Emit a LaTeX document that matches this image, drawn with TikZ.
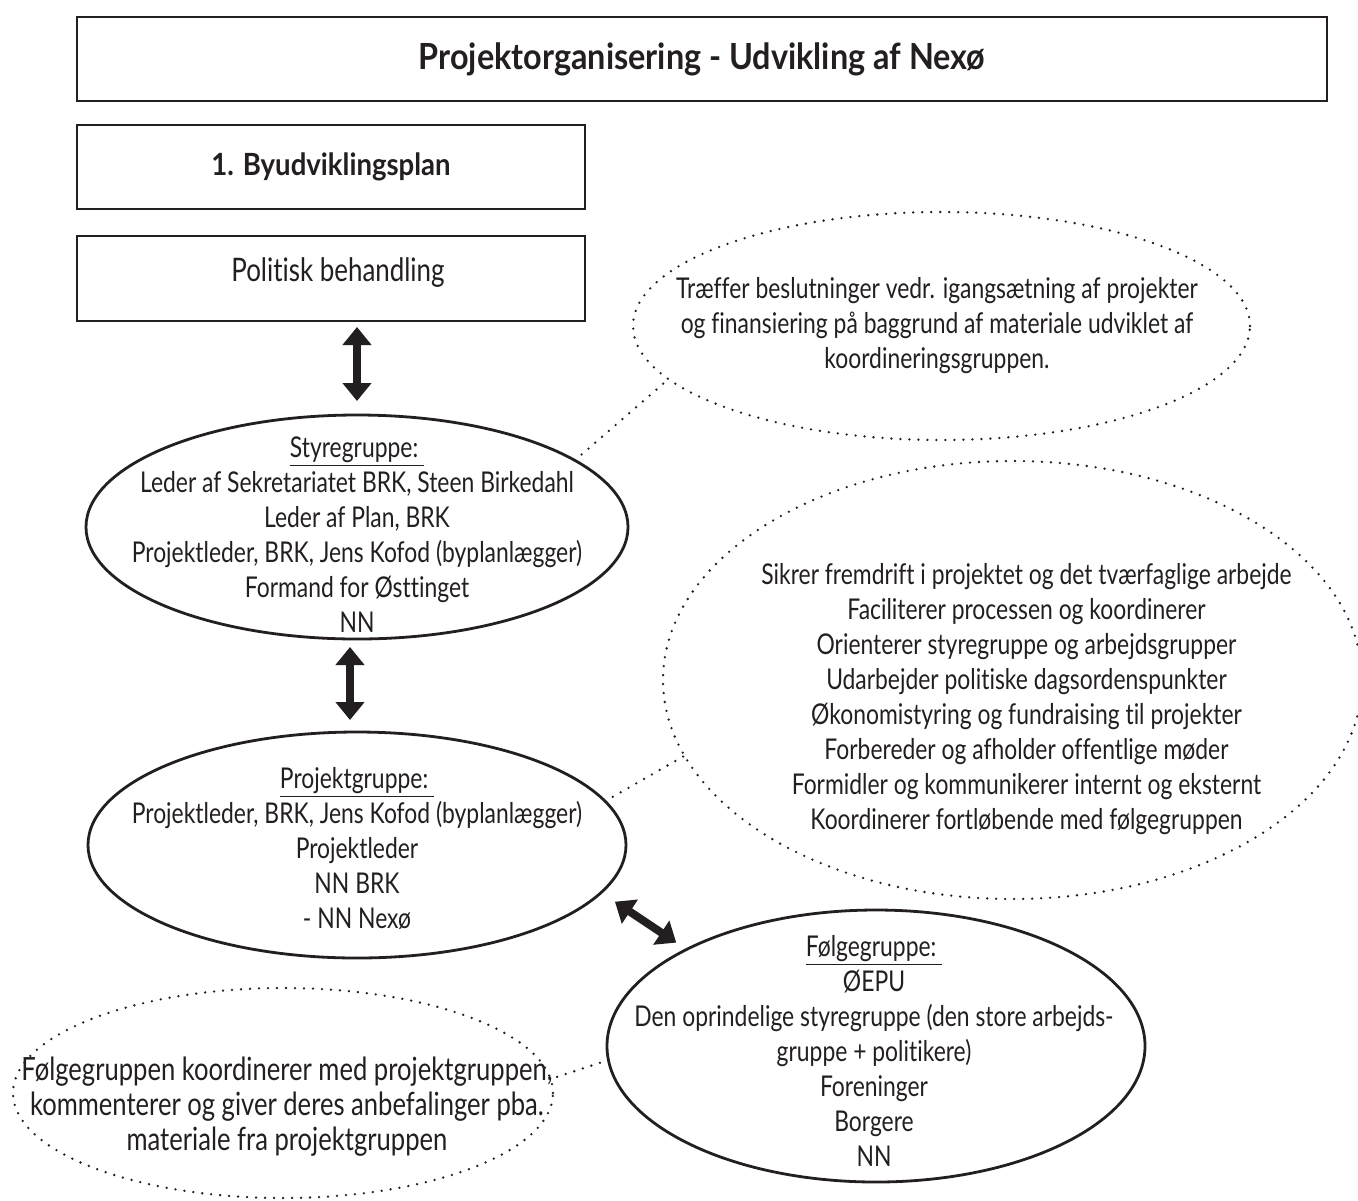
\documentclass[tikz,border=0pt]{standalone}
\usepackage{fontspec}
\setmainfont{Lato}[FakeStretch=0.8,Ligatures=NoCommon,BoldFeatures={FakeStretch=0.9}]
\usetikzlibrary{shapes.geometric,arrows.meta}
\definecolor{ink}{HTML}{231F20}
\begin{document}
\begin{tikzpicture}[x=0.5pt,y=-0.5pt,
  box/.style={draw=ink,line width=1.3pt,inner sep=0pt,outer sep=0pt},
  solidell/.style={ellipse,draw=ink,line width=1.4pt,inner sep=0pt,outer sep=0pt},
  dotell/.style={ellipse,draw=ink,line width=1.3pt,dash pattern=on 0pt off 4.5pt,line cap=round,inner sep=0pt,outer sep=0pt},
  txt/.style={align=center,inner sep=0pt,text=ink,font=\fontsize{14.3pt}{17.5pt}\selectfont},
  dotline/.style={draw=ink,line width=1.3pt,dash pattern=on 0pt off 4.5pt,line cap=round},
  bigarrow/.style={draw=ink,fill=ink,line width=4pt,{Triangle[width=14pt,length=9pt]}-{Triangle[width=14pt,length=9pt]}}
]
\fill[white] (0,0) rectangle (1358,1200);
\useasboundingbox (0,0) rectangle (1358,1200);

% boxes
\node[box,minimum width=625pt,minimum height=42pt,font=\fontsize{18pt}{20pt}\selectfont\bfseries,text=ink] (title) at (702,59) {Projektorganisering - Udvikling af Nexø};
\node[box,minimum width=254pt,minimum height=42pt,font=\fontsize{15.3pt}{18pt}\selectfont\bfseries,text=ink] (plan) at (331,167) {1. Byudviklingsplan};
\node[box,minimum width=254pt,minimum height=42.5pt] (pol) at (331,278.5) {};
\node[txt,font=\fontsize{16.2pt}{18pt}\selectfont] (polt) at (338,273) {Politisk behandling};

% ellipses
\node[solidell,minimum width=271pt,minimum height=112pt] (sg) at (357,527) {};
\node[solidell,minimum width=269pt,minimum height=113pt] (pg) at (357,845) {};
\node[solidell,minimum width=269pt,minimum height=136pt] (fg) at (876,1046) {};
\node[dotell,minimum width=308.5pt,minimum height=114pt] (d1) at (941.5,326) {};
\node[dotell,minimum width=349.5pt,minimum height=219pt] (d2) at (1012.5,680) {};
\node[dotell,minimum width=270pt,minimum height=105pt] (d3) at (283,1093) {};

% texts
\node[txt] (sgt) at (357,535) {\underline{Styregruppe:~}\\Leder af Sekretariatet BRK, Steen Birkedahl\\Leder af Plan, BRK\\Projektleder, BRK, Jens Kofod (byplanlægger)\\Formand for Østtinget\\NN};
\node[txt] (pgt) at (357,848) {\underline{Projektgruppe:~}\\Projektleder, BRK, Jens Kofod (byplanlægger)\\Projektleder\\NN BRK\\- NN Nexø};
\node[txt] (fgt) at (874,1051) {\underline{Følgegruppe:~}\\ØEPU\\Den oprindelige styregruppe (den store arbejds-\\gruppe + politikere)\\Foreninger\\Borgere\\NN};
\node[txt] (d1t) at (937,326) {Træffer beslutninger vedr. igangsætning af projekter\\og finansiering på baggrund af materiale udviklet af\\koordineringsgruppen.};
\node[txt] (d2t) at (1026.5,699) {Sikrer fremdrift i projektet og det tværfaglige arbejde\\Faciliterer processen og koordinerer\\Orienterer styregruppe og arbejdsgrupper\\Udarbejder politiske dagsordenspunkter\\Økonomistyring og fundraising til projekter\\Forbereder og afholder offentlige møder\\Formidler og kommunikerer internt og eksternt\\Koordinerer fortløbende med følgegruppen};
\node[txt,font=\fontsize{16pt}{17.5pt}\selectfont] (d3t) at (287,1107) {Følgegruppen koordinerer med projektgruppen,\\kommenterer og giver deres anbefalinger pba.\\materiale fra projektgruppen};

% dotted connectors
\draw[dotline] (sg.17) -- (d1.191);
\draw[dotline] (pg.10.7) -- (d2.193.3);
\draw[dotline] (fg.183.4) -- (d3.3.2);

% arrows
\draw[bigarrow,shorten <=3pt,shorten >=7pt] (sg.north |- pol.south) -- (sg.north);
\draw[bigarrow,shorten <=4pt,shorten >=6pt] ([xshift=-3.5pt]sg.south) -- ([xshift=-3.5pt]pg.north);
\draw[bigarrow,shorten <=8.3pt,shorten >=6.2pt] (pg.-11.5) -- (fg.153.05);
\end{tikzpicture}
\end{document}
